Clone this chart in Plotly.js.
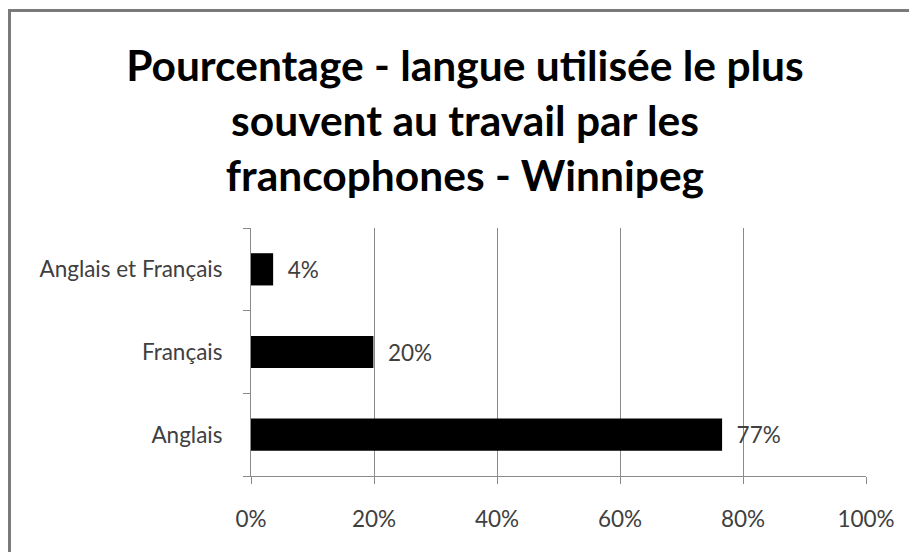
<!DOCTYPE html>
<html>
<head>
<meta charset="utf-8">
<script src="https://cdn.plot.ly/plotly-3.0.1.min.js"></script>
<style>
  html, body { margin: 0; padding: 0; background: #ffffff; overflow: hidden; }
  #chart { position: absolute; left: 0; top: 0; width: 909px; height: 552px; }
  #frame { position: absolute; left: 8px; top: 9px; width: 1000px; height: 700px;
           border-left: 3px solid #7a7a7a; border-top: 3px solid #7a7a7a; pointer-events: none; }
</style>
</head>
<body>
<div id="chart"></div>
<div id="frame"></div>
<script>
const categories = ["Anglais", "Français", "Anglais et Français"];
const values = [76.6, 19.9, 3.6];
const xTickValues = [0, 20, 40, 60, 80, 100];
const xTickLabels = ["0%", "20%", "40%", "60%", "80%", "100%"];

const FONT = "Lato, 'Open Sans', sans-serif";

const trace = {
  type: "bar",
  orientation: "h",
  y: categories,
  x: values,
  marker: { color: "#000000", line: { width: 0 } },
  width: 0.39,
  texttemplate: "\u00a0\u00a0%{x:.0f}%",
  textposition: "outside",
  cliponaxis: false,
  textfont: { family: FONT, size: 22.5, color: "#404040" },
  hoverinfo: "skip"
};

const layout = {
  width: 909,
  height: 552,
  paper_bgcolor: "#ffffff",
  plot_bgcolor: "#ffffff",
  margin: { l: 251, r: 43, t: 228, b: 76, pad: 0 },
  showlegend: false,
  title: {
    text: "Pourcentage - langue utilisée le plus<br>souvent au travail par les<br>francophones - Winnipeg",
    font: { family: FONT, size: 42.5, color: "#000000", weight: "bold" },
    x: 0.5115, xanchor: "center",
    y: 0.854, yanchor: "middle"
  },
  xaxis: {
    range: [0, 100],
    tickmode: "array",
    tickvals: xTickValues,
    ticktext: xTickLabels,
    showgrid: true,
    gridcolor: "#8a8a8a",
    gridwidth: 1,
    zeroline: false,
    showline: true,
    linecolor: "#8a8a8a",
    linewidth: 1,
    ticks: "outside",
    ticklen: 7,
    tickcolor: "#8a8a8a",
    ticklabelstandoff: 16,
    tickfont: { family: FONT, size: 22.5, color: "#404040" },
    fixedrange: true
  },
  yaxis: {
    type: "category",
    showgrid: false,
    zeroline: false,
    showline: true,
    linecolor: "#8a8a8a",
    linewidth: 1,
    ticks: "outside",
    tickson: "boundaries",
    ticklen: 7,
    tickcolor: "#8a8a8a",
    ticklabelstandoff: 23,
    tickfont: { family: FONT, size: 22.5, color: "#404040" },
    fixedrange: true
  },
  bargap: 0.6
};

Plotly.newPlot("chart", [trace], layout, { displayModeBar: false, staticPlot: true });
</script>
</body>
</html>
